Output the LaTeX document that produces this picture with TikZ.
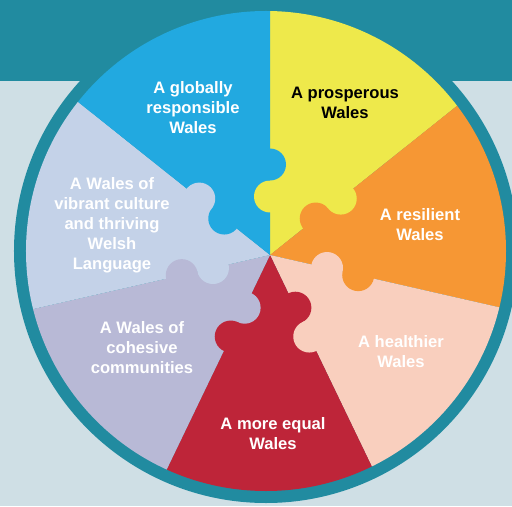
\documentclass[tikz,border=0pt]{standalone}
\usepackage{fontspec}
\setmainfont{Liberation Sans}

\definecolor{walesteal}{HTML}{218BA0}
\definecolor{walesbg}{HTML}{CFDFE5}
\definecolor{goalblue}{HTML}{22A9E0}
\definecolor{goalyellow}{HTML}{EEE94B}
\definecolor{goalorange}{HTML}{F69734}
\definecolor{goalpeach}{HTML}{F9CFBE}
\definecolor{goalred}{HTML}{BE2539}
\definecolor{goallavender}{HTML}{B8B9D6}
\definecolor{goalculture}{HTML}{C4D2E8}

\tikzset{
  goaltext/.style={align=center, text=white, font=\bfseries\fontsize{11.8pt}{14.2pt}\selectfont},
}

\begin{document}
\begin{tikzpicture}[x=0.025cm,y=0.025cm]
        \useasboundingbox (-270,-251) rectangle (242,255);
        \fill[walesbg] (-270,-251) rectangle (242,255);
        \fill[walesteal] (-270,174) rectangle (242,255);
        \fill[walesteal] (-4,4) circle (252);
        % the seven pieces
        \begin{scope}
            \clip (-4,4) circle (240);
            \foreach \k/\col in {0/goalyellow, 1/goalorange, 2/goalpeach, 3/goalred, 4/goallavender, 5/goalculture, 6/goalblue} {
                \pgfmathsetmacro{\a}{90-\k*360/7}
                \fill[\col] (0,0) -- (\a:400) -- (\a-25.72:400) -- (\a-51.43:400) -- cycle;
            }
        \end{scope}
        % puzzle knobs on each edge
        \foreach \k/\ccw/\cw in {0/goalblue/goalyellow, 1/goalyellow/goalorange, 2/goalorange/goalpeach, 3/goalpeach/goalred, 4/goalred/goallavender, 5/goallavender/goalculture, 6/goalculture/goalblue} {
            \pgfmathsetmacro{\a}{90-\k*360/7}
            \fill[\cw] (\a:58.5) circle (16);
            \fill[\ccw] (\a:90.5) circle (16);
        }
        \node[goaltext] (globally) at (-77,147) {A globally\\responsible\\Wales};
        \node[goaltext, text=black] (prosperous) at (75,152) {A prosperous\\Wales};
        \node[goaltext] (resilient) at (150,30) {A resilient\\Wales};
        \node[goaltext] (healthier) at (131,-97) {A healthier\\Wales};
        \node[goaltext] (equal) at (3,-179) {A more equal\\Wales};
        \node[goaltext] (cohesive) at (-128,-93) {A Wales of\\cohesive\\communities};
        \node[goaltext] (culture) at (-158,30) {A Wales of\\vibrant culture\\and thriving\\Welsh\\Language};
    \end{tikzpicture}
\end{document}
